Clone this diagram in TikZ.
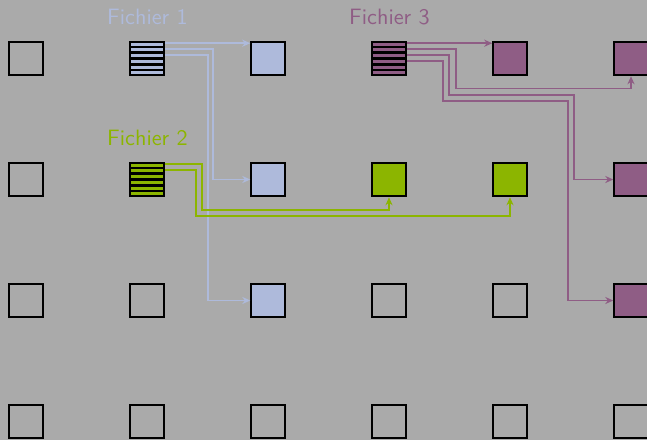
\documentclass[tikz,border=0pt]{standalone}
\usetikzlibrary{calc,arrows.meta}
\definecolor{bgc}{HTML}{AAAAAA}
\definecolor{fblue}{HTML}{AEBADB}
\definecolor{fgreen}{HTML}{8CB500}
\definecolor{fpurple}{HTML}{8F5D85}
\tikzset{
  sq/.style={draw=black, line width=1pt, minimum size=15pt, inner sep=0pt, outer sep=0.5pt},
  conn/.style={line width=0.8pt, -{Stealth[length=3.6pt,width=3.2pt]}},
  lab/.style={anchor=base, font=\sffamily}
}
\begin{document}
\begin{tikzpicture}[x=0.45pt,y=-0.45pt]
\fill[bgc] (0,0) rectangle (647,440);
\useasboundingbox (0,0) rectangle (647,440);
\clip (0,0) rectangle (647,440);
% grid of squares
\foreach \i in {1,...,6}{
  \foreach \j in {1,...,4}{
    \node[sq] (s\i\j) at ({26+121*(\i-1)},{58.5+121*(\j-1)}) {};
  }
}
% coloured squares
\node[sq, fill=fblue] (s21) at (147,58.5) {};
\node[sq, fill=fblue] (s31) at (268,58.5) {};
\node[sq, fill=fblue] (s32) at (268,179.5) {};
\node[sq, fill=fblue] (s33) at (268,300.5) {};
\node[sq, fill=fgreen] (s22) at (147,179.5) {};
\node[sq, fill=fgreen] (s42) at (389,179.5) {};
\node[sq, fill=fgreen] (s52) at (510,179.5) {};
\node[sq, fill=fpurple] (s41) at (389,58.5) {};
\node[sq, fill=fpurple] (s51) at (510,58.5) {};
\node[sq, fill=fpurple] (s61) at (631,58.5) {};
\node[sq, fill=fpurple] (s62) at (631,179.5) {};
\node[sq, fill=fpurple] (s63) at (631,300.5) {};
% stripes
\foreach \n in {s21,s22,s41}{
  \foreach \k in {1,...,5}{
    \draw[line width=1pt] ($(\n.north west)!{\k/6}!(\n.south west)$) -- ($(\n.north east)!{\k/6}!(\n.south east)$);
  }
}
% labels
\node[lab, text=fblue] (l1) at (147.5,24.3) {Fichier 1};
\node[lab, text=fgreen] (l2) at (147.5,145) {Fichier 2};
\node[lab, text=fpurple] (l3) at (389.5,24.3) {Fichier 3};
% stripe anchor coordinates
\coordinate (a1) at ($(s21.north east)!0.07!(s21.south east)$);
\coordinate (a2) at ($(s21.north east)!0.235!(s21.south east)$);
\coordinate (a3) at ($(s21.north east)!0.40!(s21.south east)$);
\coordinate (g1) at ($(s22.north east)!0.07!(s22.south east)$);
\coordinate (g2) at ($(s22.north east)!0.235!(s22.south east)$);
\coordinate (p1) at ($(s41.north east)!0.07!(s41.south east)$);
\coordinate (p2) at ($(s41.north east)!0.235!(s41.south east)$);
\coordinate (p3) at ($(s41.north east)!0.40!(s41.south east)$);
\coordinate (p4) at ($(s41.north east)!0.575!(s41.south east)$);
% Fichier 1 connectors
\draw[conn, fblue] (a1) -- (a1 -| s31.west);
\draw[conn, fblue] (a2) -- ++(48.5,0) |- (s32.west);
\draw[conn, fblue] (a3) -- ++(43.2,0) |- (s33.west);
% Fichier 2 connectors
\draw[conn, fgreen] (g1) -- ++(37,0) |- ($(s42.south)+(0,12.7)$) -- (s42.south);
\draw[conn, fgreen] (g2) -- ++(31,0) |- ($(s52.south)+(0,18.7)$) -- (s52.south);
% Fichier 3 connectors
\draw[conn, fpurple] (p1) -- (p1 -| s51.west);
\draw[conn, fpurple] (p2) -- ++(49.2,0) |- ($(s61.south)+(0,12.2)$) -- (s61.south);
\draw[conn, fpurple] (p3) -- ++(42.5,0) |- ($(s62.west)+(-39.5,-84.8)$) |- (s62.west);
\draw[conn, fpurple] (p4) -- ++(36.5,0) |- ($(s63.west)+(-45.5,-199.8)$) |- (s63.west);
\end{tikzpicture}
\end{document}
